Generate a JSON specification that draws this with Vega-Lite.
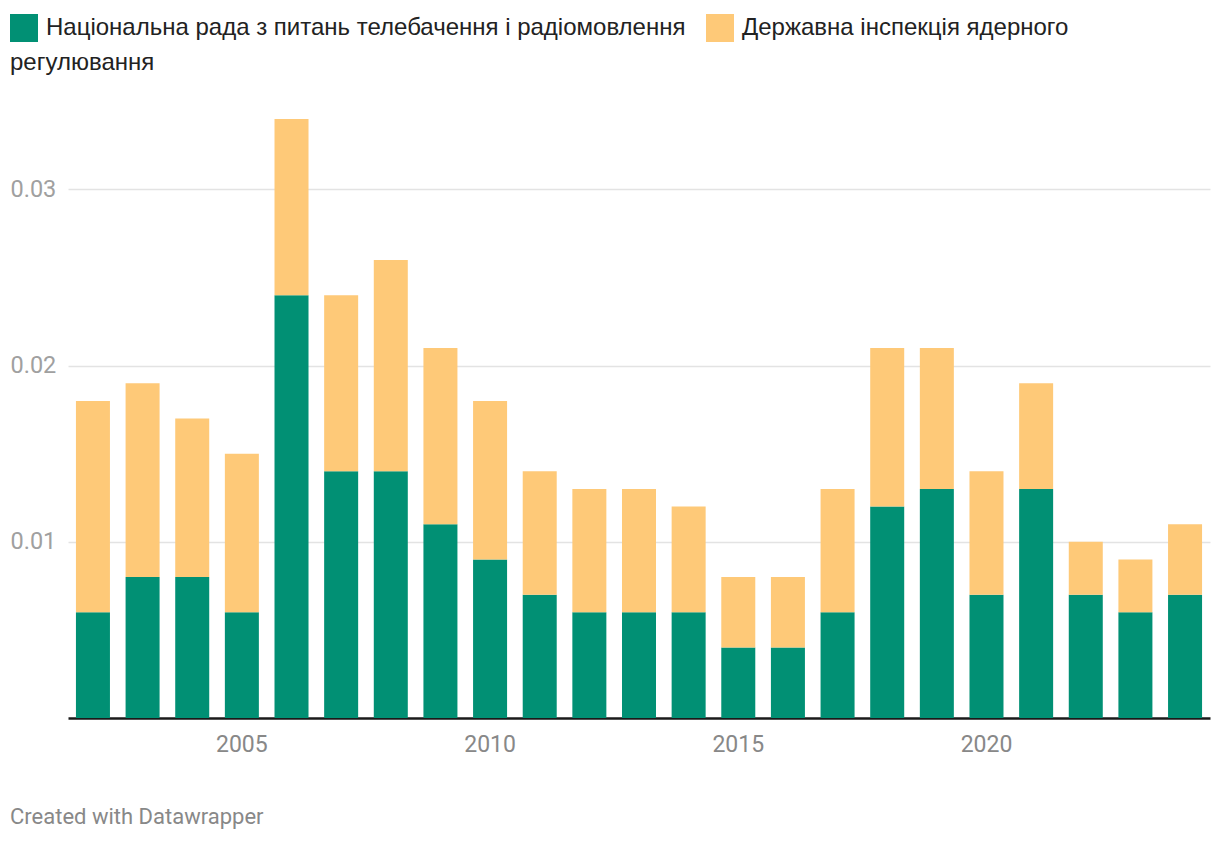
{
  "$schema": "https://vega.github.io/schema/vega-lite/v6.json",
  "autosize": "none",
  "width": 1142,
  "height": 599,
  "padding": {"left": 68, "top": 119, "right": 10, "bottom": 124},
  "background": "white",
  "config": {
    "font": "Roboto",
    "view": {"stroke": null}
  },
  "title": {
    "text": "Created with Datawrapper",
    "orient": "bottom",
    "anchor": "start",
    "dx": 0,
    "offset": 51,
    "fontSize": 22,
    "fontWeight": "normal",
    "color": "#888888",
    "font": "Roboto"
  },
  "data": {
    "values": [
      {"year": 2002, "series": "Національна рада з питань телебачення і радіомовлення", "value": 0.006},
      {"year": 2002, "series": "Державна інспекція ядерного регулювання", "value": 0.012},
      {"year": 2003, "series": "Національна рада з питань телебачення і радіомовлення", "value": 0.008},
      {"year": 2003, "series": "Державна інспекція ядерного регулювання", "value": 0.011},
      {"year": 2004, "series": "Національна рада з питань телебачення і радіомовлення", "value": 0.008},
      {"year": 2004, "series": "Державна інспекція ядерного регулювання", "value": 0.009},
      {"year": 2005, "series": "Національна рада з питань телебачення і радіомовлення", "value": 0.006},
      {"year": 2005, "series": "Державна інспекція ядерного регулювання", "value": 0.009},
      {"year": 2006, "series": "Національна рада з питань телебачення і радіомовлення", "value": 0.024},
      {"year": 2006, "series": "Державна інспекція ядерного регулювання", "value": 0.010},
      {"year": 2007, "series": "Національна рада з питань телебачення і радіомовлення", "value": 0.014},
      {"year": 2007, "series": "Державна інспекція ядерного регулювання", "value": 0.010},
      {"year": 2008, "series": "Національна рада з питань телебачення і радіомовлення", "value": 0.014},
      {"year": 2008, "series": "Державна інспекція ядерного регулювання", "value": 0.012},
      {"year": 2009, "series": "Національна рада з питань телебачення і радіомовлення", "value": 0.011},
      {"year": 2009, "series": "Державна інспекція ядерного регулювання", "value": 0.010},
      {"year": 2010, "series": "Національна рада з питань телебачення і радіомовлення", "value": 0.009},
      {"year": 2010, "series": "Державна інспекція ядерного регулювання", "value": 0.009},
      {"year": 2011, "series": "Національна рада з питань телебачення і радіомовлення", "value": 0.007},
      {"year": 2011, "series": "Державна інспекція ядерного регулювання", "value": 0.007},
      {"year": 2012, "series": "Національна рада з питань телебачення і радіомовлення", "value": 0.006},
      {"year": 2012, "series": "Державна інспекція ядерного регулювання", "value": 0.007},
      {"year": 2013, "series": "Національна рада з питань телебачення і радіомовлення", "value": 0.006},
      {"year": 2013, "series": "Державна інспекція ядерного регулювання", "value": 0.007},
      {"year": 2014, "series": "Національна рада з питань телебачення і радіомовлення", "value": 0.006},
      {"year": 2014, "series": "Державна інспекція ядерного регулювання", "value": 0.006},
      {"year": 2015, "series": "Національна рада з питань телебачення і радіомовлення", "value": 0.004},
      {"year": 2015, "series": "Державна інспекція ядерного регулювання", "value": 0.004},
      {"year": 2016, "series": "Національна рада з питань телебачення і радіомовлення", "value": 0.004},
      {"year": 2016, "series": "Державна інспекція ядерного регулювання", "value": 0.004},
      {"year": 2017, "series": "Національна рада з питань телебачення і радіомовлення", "value": 0.006},
      {"year": 2017, "series": "Державна інспекція ядерного регулювання", "value": 0.007},
      {"year": 2018, "series": "Національна рада з питань телебачення і радіомовлення", "value": 0.012},
      {"year": 2018, "series": "Державна інспекція ядерного регулювання", "value": 0.009},
      {"year": 2019, "series": "Національна рада з питань телебачення і радіомовлення", "value": 0.013},
      {"year": 2019, "series": "Державна інспекція ядерного регулювання", "value": 0.008},
      {"year": 2020, "series": "Національна рада з питань телебачення і радіомовлення", "value": 0.007},
      {"year": 2020, "series": "Державна інспекція ядерного регулювання", "value": 0.007},
      {"year": 2021, "series": "Національна рада з питань телебачення і радіомовлення", "value": 0.013},
      {"year": 2021, "series": "Державна інспекція ядерного регулювання", "value": 0.006},
      {"year": 2022, "series": "Національна рада з питань телебачення і радіомовлення", "value": 0.007},
      {"year": 2022, "series": "Державна інспекція ядерного регулювання", "value": 0.003},
      {"year": 2023, "series": "Національна рада з питань телебачення і радіомовлення", "value": 0.006},
      {"year": 2023, "series": "Державна інспекція ядерного регулювання", "value": 0.003},
      {"year": 2024, "series": "Національна рада з питань телебачення і радіомовлення", "value": 0.007},
      {"year": 2024, "series": "Державна інспекція ядерного регулювання", "value": 0.004}
    ]
  },
  "mark": {"type": "bar"},
  "encoding": {
    "x": {
      "field": "year",
      "type": "ordinal",
      "scale": {"paddingInner": 0.315, "paddingOuter": 0.16},
      "axis": {
        "title": null,
        "values": [2005, 2010, 2015, 2020],
        "labelAngle": 0,
        "labelFontSize": 23,
        "labelColor": "#888888",
        "labelPadding": 15,
        "ticks": false,
        "domain": true,
        "domainColor": "#1a1a1a",
        "domainWidth": 2.5,
        "grid": false
      }
    },
    "y": {
      "field": "value",
      "type": "quantitative",
      "stack": "zero",
      "scale": {"domain": [0, 0.034], "nice": false, "zero": true},
      "axis": {
        "title": null,
        "values": [0.01, 0.02, 0.03],
        "format": ".2f",
        "grid": true,
        "gridColor": "#e3e3e3",
        "gridWidth": 1.5,
        "domain": false,
        "ticks": false,
        "labelAlign": "left",
        "labelBaseline": "middle",
        "labelPadding": 58,
        "labelFontSize": 23.5,
        "labelColor": "#a0a0a0"
      }
    },
    "color": {
      "field": "series",
      "type": "nominal",
      "sort": ["Національна рада з питань телебачення і радіомовлення", "Державна інспекція ядерного регулювання"],
      "scale": {
        "domain": ["Національна рада з питань телебачення і радіомовлення", "Державна інспекція ядерного регулювання"],
        "range": ["#019074", "#fec978"]
      },
      "legend": {
        "orient": "none",
        "legendX": -58,
        "legendY": -105,
        "direction": "horizontal",
        "title": "регулювання",
        "titleOrient": "bottom",
        "titleAnchor": "start",
        "titleFont": "Liberation Sans",
        "titleFontSize": 24,
        "titleFontWeight": "normal",
        "titleColor": "#222222",
        "titlePadding": 9,
        "titleLimit": 0,
        "symbolType": "square",
        "symbolSize": 784,
        "symbolStrokeWidth": 0,
        "symbolOpacity": 1,
        "labelFont": "Liberation Sans",
        "labelFontSize": 24,
        "labelColor": "#222222",
        "labelLimit": 0,
        "labelOffset": 8,
        "columnPadding": 20,
        "labelExpr": "datum.label == 'Державна інспекція ядерного регулювання' ? 'Державна інспекція ядерного' : datum.label"
      }
    },
    "order": {"field": "series", "sort": "descending"}
  }
}
